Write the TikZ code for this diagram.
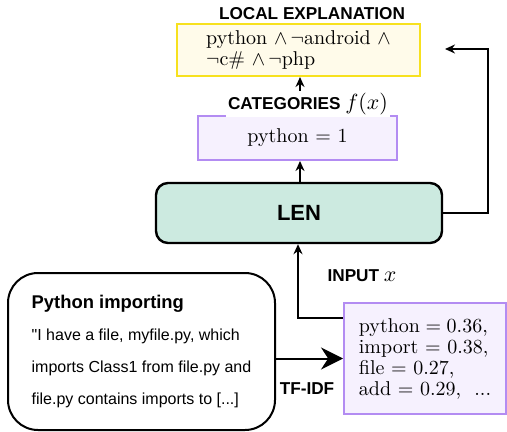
\documentclass[tikz,border=0pt]{standalone}
\usepackage{fontspec}
\setsansfont{Liberation Sans}
\usepackage{xcolor}
\usetikzlibrary{arrows.meta, positioning, calc}

\definecolor{explainline}{HTML}{F7E11E}
\definecolor{explainfill}{HTML}{FFFBEA}
\definecolor{catline}{HTML}{B38CF2}
\definecolor{catfill}{HTML}{F6F1FE}
\definecolor{lenfill}{HTML}{CCEAE0}

\begin{document}
\begin{tikzpicture}[
    x=0.5pt, y=-0.5pt,
    font=\sffamily,
    tag/.style={
        inner sep=1pt,
        font=\sffamily\bfseries\fontsize{8.6pt}{10pt}\selectfont
    },
    explbox/.style={
        rectangle,
        draw=explainline,
        fill=explainfill,
        line width=1pt,
        align=left,
        font=\rmfamily\fontsize{10pt}{10.5pt}\selectfont
    },
    catbox/.style={
        rectangle,
        draw=catline,
        fill=catfill,
        line width=1pt,
        font=\rmfamily\fontsize{10pt}{10.5pt}\selectfont
    },
    flow/.style={
        line width=1pt,
        -{Stealth[length=5pt, width=4.5pt]}
    }
]
    \useasboundingbox (0,0) rectangle (507,432);

    % Output side
    \node[tag] (explaintitle) at (312,14) {LOCAL EXPLANATION};
    \node[explbox, minimum width=121.5pt, minimum height=22pt] (explain) at (298.5,50)
        {python $\wedge\,\neg$android $\wedge$\\ $\neg$c\# $\wedge\,\neg$php};
    \node[catbox, minimum width=99.5pt, minimum height=22pt] (cat) at (297.5,138) {python $=$ 1};

    % Model
    \node[rectangle, rounded corners=6pt, draw=black, fill=lenfill, line width=1.2pt,
          minimum width=143pt, minimum height=30pt,
          font=\sffamily\bfseries\fontsize{11pt}{12pt}\selectfont] (len) at (299,213) {LEN};

    % Input side
    \node[rectangle, rounded corners=15pt, draw=black, line width=1pt,
          minimum width=133.5pt, minimum height=78.5pt, align=left,
          font=\sffamily\fontsize{8pt}{16pt}\selectfont] (doc) at (141.5,351.5)
        {{\bfseries\fontsize{9.2pt}{16pt}\selectfont Python importing}\\
         \textquotedbl I have a file, myfile.py, which\\
         imports Class1 from file.py and\\
         file.py contains imports to [...]};
    \node[catbox, minimum width=81pt, minimum height=55.5pt, align=left] (tfidf) at (425,358.5)
        {python${}={}$0.36,\\ import $=$ 0.38,\\ file $=$ 0.27,\\ add $=$ 0.29, \ ...};

    % Connectors
    \coordinate (loopcorner) at (488,49);
    \coordinate (loopend) at (445,49);
    \coordinate (inputstart) at ($(tfidf.north west)+(0,16)$);

    \draw[flow] (cat.north -| 300,0) -- (explain.south -| 300,0);
    \node[tag, fill=white] (catlabel) at (308,104)
        {CATEGORIES {\mdseries\fontsize{10.5pt}{12pt}\selectfont $f(x)$}};
    \draw[flow] (len.north -| 300,0) -- (cat.south -| 300,0);
    \draw[flow] (len.east) -| (loopcorner) -- (loopend);
    \draw[flow] (inputstart) -| (len.south -| 298,0);
    \draw[line width=1pt, -{Stealth[length=11pt, width=11pt]}] (doc.east |- tfidf.west) -- (tfidf.west);

    % Connector labels
    \node[tag] (inputlabel) at (362,276) {INPUT {\mdseries\fontsize{10.5pt}{12pt}\selectfont $x$}};
    \node[tag] (tfidflabel) at (307,389) {TF-IDF};

\end{tikzpicture}
\end{document}
